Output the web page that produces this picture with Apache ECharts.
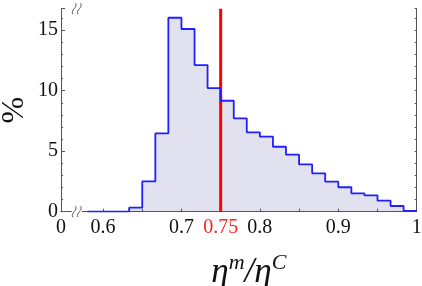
<!DOCTYPE html>
<html><head><meta charset="utf-8">
<script src="https://cdn.jsdelivr.net/npm/echarts@6/dist/echarts.min.js"></script>
<style>html,body{margin:0;padding:0;background:#fff}#c{width:422px;height:286px}</style>
</head><body><div id="c"></div>
<script>
// histogram bins (left edges) and percentages
const binStart = [0.6333,0.6500,0.6667,0.6833,0.7000,0.7167,0.7333,0.7500,0.7667,0.7833,0.8000,
                  0.8167,0.8333,0.8500,0.8667,0.8833,0.9000,0.9167,0.9333,0.9500,0.9667,0.9833];
const pct      = [0.33,2.5,6.48,16.03,15.1,12.12,10.22,9.17,7.72,6.56,6.2,
                  5.37,4.71,3.91,3.17,2.48,2.02,1.52,1.35,0.91,0.47,0.06];
const xLabelValues = [0.5464,0.6,0.7,0.75,0.8,0.9,1.0];
const xLabelText   = ['0','0.6','0.7','0.75','0.8','0.9','1'];
const xTickValues  = [0.6,0.65,0.7,0.75,0.8,0.85,0.9,0.95];
const yAxisTitle = '%';
const markValue = 0.75;
const baseStart = 0.58;
const xMin = 0.5464, xMax = 1.0, yMax = 16.78;

const stepData = [[baseStart,0]];
binStart.forEach((b,i)=>stepData.push([b,pct[i]]));
stepData.push([xMax,pct[pct.length-1]]);

const chart = echarts.init(document.getElementById('c'));
const serif = 'Liberation Serif';
const frame = {color:'#555',width:1};
chart.setOption({
  animation:false,
  grid:{left:61,right:5.3,top:8.7,bottom:74.3,containLabel:false,outerBoundsMode:'none'},
  xAxis:[{
    type:'value',min:xMin,max:xMax,
    axisLine:{lineStyle:frame},
    splitLine:{show:false},
    axisTick:{inside:true,length:3,lineStyle:{color:'#555'},customValues:xTickValues},
    axisLabel:{customValues:xLabelValues,margin:6,fontFamily:serif,fontSize:20,color:'#111',
      formatter:function(v){const i=xLabelValues.findIndex(x=>Math.abs(x-v)<1e-6);
        const t=i>=0?xLabelText[i]:'';return Math.abs(v-markValue)<1e-6?'{r|'+t+'}':t;},
      rich:{r:{color:'#ff2020',fontFamily:serif,fontSize:20}}},
    name:'{a|η}{b|m}{a|/η}{b|C}',nameLocation:'middle',nameGap:41,nameMoveOverlap:false,
    nameTextStyle:{fontWeight:'normal',padding:[0,0,0,20],rich:{
      a:{fontFamily:serif,fontStyle:'italic',fontWeight:'normal',fontSize:35,color:'#111'},
      b:{fontFamily:serif,fontStyle:'italic',fontWeight:'normal',fontSize:22,color:'#111',padding:[0,0,18,0]}}}
  },{
    type:'value',position:'top',min:xMin,max:xMax,
    axisLine:{lineStyle:frame},axisTick:{show:false},axisLabel:{show:false},splitLine:{show:false}
  }],
  yAxis:[{
    type:'value',min:0,max:yMax,interval:5,
    axisLine:{show:true,lineStyle:frame},
    splitLine:{show:false},
    axisTick:{inside:true,length:4,lineStyle:{color:'#555'}},
    minorTick:{show:true,splitNumber:5,length:2,lineStyle:{color:'#555'}},
    axisLabel:{margin:3,fontFamily:serif,fontSize:20,color:'#111',
      formatter:function(v){return v>16?'':String(v);}}
  },{
    type:'value',position:'right',min:0,max:yMax,interval:1,
    axisLine:{show:true,lineStyle:frame},splitLine:{show:false},
    axisTick:{inside:true,length:2,lineStyle:{color:'#555'}},axisLabel:{show:false}
  }],
  series:[{
    type:'line',data:[[markValue,0],[markValue,yMax]],symbol:'none',
    lineStyle:{color:'#ff0000',width:3},silent:true
  },{
    type:'line',data:stepData,step:'end',symbol:'none',
    lineStyle:{color:'#1f1fff',width:1.8},
    areaStyle:{color:'rgba(90,90,165,0.26)'}
  }]
});

function drawExtras(){
  const bx = chart.convertToPixel({xAxisIndex:0},0.5665);
  const yb = chart.convertToPixel({yAxisIndex:0},0);
  const yt = chart.convertToPixel({yAxisIndex:0},yMax);
  const ym = chart.convertToPixel({yAxisIndex:0},8.4);
  const xl = chart.convertToPixel({xAxisIndex:0},xMin);
  const els = [];
  [yb,yt].forEach(function(y){
    els.push({type:'rect',shape:{x:bx-5,y:y-2,width:10,height:4},style:{fill:'#fff'},z:100});
    [-2.6,2.6].forEach(function(d){
      const cx=bx+d;
      els.push({type:'bezierCurve',shape:{x1:cx-1.3,y1:y+5.5,cpx1:cx-4,cpy1:y+1,cpx2:cx+4,cpy2:y-1,x2:cx+1.3,y2:y-5.5},
        style:{stroke:'#555',lineWidth:1,fill:null},z:101});
    });
  });
  els.push({type:'text',x:xl-46,y:ym,rotation:Math.PI/2,
    style:{text:yAxisTitle,fontFamily:serif,fontSize:32,fill:'#111',align:'center',verticalAlign:'middle'},z:50});
  chart.setOption({graphic:els});
}
drawExtras();
</script></body></html>
